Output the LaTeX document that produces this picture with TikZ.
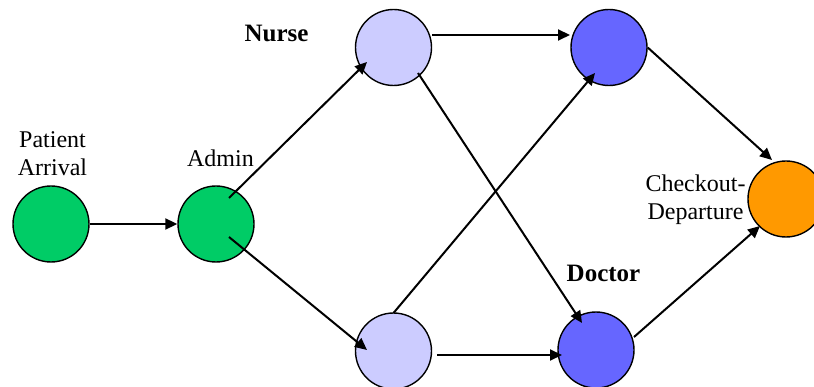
\documentclass[tikz,border=0pt]{standalone}
\usepackage{fontspec}
\setmainfont{Liberation Serif}
\usetikzlibrary{arrows.meta,calc}
\definecolor{cgreen}{RGB}{0,204,102}
\definecolor{clav}{RGB}{204,204,255}
\definecolor{cblue}{RGB}{102,102,255}
\definecolor{corange}{RGB}{255,153,0}
\tikzset{
  state/.style={circle,draw=black,line width=1.4pt,minimum size=76pt,inner sep=0pt},
  arr/.style={line width=2pt,-{Triangle[length=12pt,width=11pt]}},
  lbl/.style={font=\fontsize{24}{28.5}\selectfont,align=center,inner sep=0pt},
  blbl/.style={font=\fontsize{25}{29}\selectfont\bfseries,inner sep=0pt},
}
\begin{document}
\begin{tikzpicture}[x=1pt,y=-1pt]
\useasboundingbox (0,0) rectangle (814,387);
\node[state,fill=cgreen] (pa) at (51,224) {};
\node[state,fill=cgreen] (ad) at (216,224) {};
\node[state,fill=clav] (nt) at (393.5,47.5) {};
\node[state,fill=clav] (nb) at (393.5,351) {};
\node[state,fill=cblue] (dt) at (609,47.5) {};
\node[state,fill=cblue] (db) at (596,350) {};
\node[state,fill=corange] (co) at (786,199) {};
\node[lbl,anchor=base] (tpa) at (52.5,176) {Patient\\Arrival};
\node[lbl,anchor=base] (tad) at (220.5,167) {Admin};
\node[blbl,anchor=base] (tnu) at (276.5,41.7) {Nurse};
\node[blbl,anchor=base] (tdo) at (603.5,282) {Doctor};
\node[lbl,anchor=base] (tco) at (695.5,220) {Checkout-\\Departure};
\draw[arr] (pa.east) -- (ad.west);
\draw[arr] ($(ad)+(13,-26)$) -- ($(nt)+(-26.5,14.5)$);
\draw[arr] ($(ad)+(13,13)$) -- ($(nb)+(-26.5,-1)$);
\draw[arr] ($(nt)+(38.5,-12.5)$) -- ($(dt)+(-39,-12.5)$);
\draw[arr] ($(nt)+(24.5,25.5)$) -- ($(db)+(-14,-27)$);
\draw[arr] ($(nb)+(0,-38)$) -- ($(dt)+(-14,25.5)$);
\draw[arr] ($(nb)+(43.5,4)$) -- ($(db)+(-34,5)$);
\draw[arr] (dt.east) -- ($(co)+(-14,-39)$);
\draw[arr] ($(db)+(38,-13)$) -- ($(co)+(-26,27)$);
\end{tikzpicture}
\end{document}
